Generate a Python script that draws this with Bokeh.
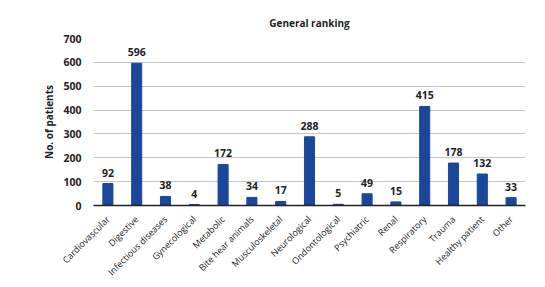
import math
from bokeh.plotting import figure
from bokeh.models import ColumnDataSource, Range1d, FactorRange
from bokeh.core.properties import value
from bokeh.embed import file_html
from bokeh.resources import INLINE

categories = ["Cardiovascular", "Digestive", "Infectious diseases", "Gynecological",
              "Metabolic", "Bite hear animals", "Musculoskeletal", "Neurological",
              "Ondontological", "Psychiatric", "Renal", "Respiratory", "Trauma",
              "Healthy patient", "Other"]
patients = [92, 596, 38, 4, 172, 34, 17, 288, 5, 49, 15, 415, 178, 132, 33]
y_ticks = [0, 100, 200, 300, 400, 500, 600, 700]

FONT = "Open Sans"
BAR = "#1B479B"
TXT = "#222222"

src = ColumnDataSource(dict(cat=categories, val=patients,
                            lab=[str(v) for v in patients]))

p = figure(width=545, height=287, x_range=FactorRange(*categories),
           y_range=Range1d(0, 700), output_backend="svg", toolbar_location=None,
           min_border_left=93, min_border_right=20, min_border_top=38,
           min_border_bottom=82, title="General ranking")
p.outline_line_color = None
p.background_fill_color = "white"
p.border_fill_color = "white"

p.title.align = "center"
p.title.text_font = FONT
p.title.text_font_size = "10px"
p.title.text_font_style = "bold"
p.title.text_color = TXT
p.title.standoff = 18

p.vbar(x="cat", top="val", width=0.35, source=src, color=BAR)
p.text(x="cat", y="val", text="lab", source=src, text_align="center",
       text_baseline="bottom", y_offset=-7, text_font=value(FONT),
       text_font_size="10.5px", text_font_style="bold", text_color=TXT)

p.xgrid.grid_line_color = None
p.ygrid.grid_line_color = "#c4c4c4"
p.ygrid.grid_line_width = 1
p.yaxis.ticker = y_ticks
p.yaxis.axis_line_color = None
p.yaxis.major_tick_line_color = None
p.yaxis.minor_tick_line_color = None
p.yaxis.major_label_text_font = FONT
p.yaxis.major_label_text_font_size = "10.5px"
p.yaxis.major_label_text_font_style = "bold"
p.yaxis.major_label_text_color = TXT
p.yaxis.major_label_standoff = 6
p.yaxis.axis_label = "No. of patients"
p.yaxis.axis_label_text_font = FONT
p.yaxis.axis_label_text_font_size = "10px"
p.yaxis.axis_label_text_font_style = "bold"
p.yaxis.axis_label_text_color = TXT
p.yaxis.axis_label_standoff = 4

p.xaxis.axis_line_color = TXT
p.xaxis.axis_line_width = 1.5
p.xaxis.major_tick_line_color = None
p.xaxis.minor_tick_line_color = None
p.xaxis.major_label_orientation = math.pi / 4
p.xaxis.major_label_text_font = FONT
p.xaxis.major_label_text_font_size = "9px"
p.xaxis.major_label_text_color = TXT
p.xaxis.major_label_standoff = 6

open("out.html", "w").write(file_html(p, INLINE))
